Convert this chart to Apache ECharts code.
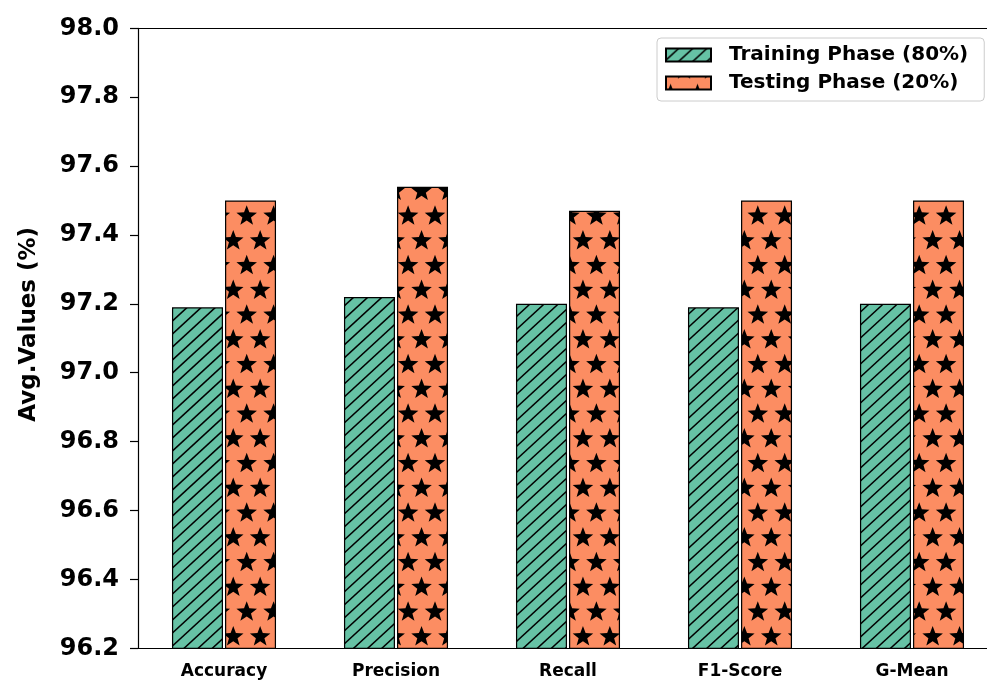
<!DOCTYPE html>
<html>
<head>
<meta charset="utf-8">
<script src="https://cdn.jsdelivr.net/npm/echarts@6/dist/echarts.min.js"></script>
<style>
  html, body { margin: 0; padding: 0; background: #fff; }
  #chart { width: 987px; height: 681px; }
</style>
</head>
<body>
<div id="chart"></div>
<script>
// Metric categories and per-phase averages (%)
const categories = ['Accuracy', 'Precision', 'Recall', 'F1-Score', 'G-Mean'];
const trainingPhase = [97.19, 97.22, 97.20, 97.19, 97.20];
const testingPhase = [97.50, 97.54, 97.47, 97.50, 97.50];
const seriesNames = ['Training Phase (80%)', 'Testing Phase (20%)'];
const yMin = 96.2;
const yMax = 98.0;
const yStep = 0.2;

const W = 987, H = 681;
const FONT = 'DejaVu Sans';

// Diagonal hatch texture anchored to the page, green base
function makeHatch() {
  const c = document.createElement('canvas');
  c.width = W; c.height = H;
  const ctx = c.getContext('2d');
  ctx.fillStyle = '#66c2a5';
  ctx.fillRect(0, 0, W, H);
  ctx.strokeStyle = '#000';
  ctx.lineWidth = 1.5;
  const slope = 0.92, step = 13, base = 674.6;
  for (let k = -60; k <= 80; k++) {
    const cst = base + k * step;          // y + slope*x = cst
    ctx.beginPath();
    ctx.moveTo(0, cst);
    ctx.lineTo(W, cst - slope * W);
    ctx.stroke();
  }
  return c;
}

// Staggered five-point star texture, orange base
function drawStar(ctx, cx, cy, R, r) {
  ctx.beginPath();
  for (let i = 0; i < 10; i++) {
    const a = -Math.PI / 2 + i * Math.PI / 5;
    const rad = i % 2 === 0 ? R : r;
    const x = cx + rad * Math.cos(a), y = cy + rad * Math.sin(a);
    if (i === 0) ctx.moveTo(x, y); else ctx.lineTo(x, y);
  }
  ctx.closePath();
  ctx.fill();
}
function makeStars() {
  const c = document.createElement('canvas');
  c.width = W; c.height = H;
  const ctx = c.getContext('2d');
  ctx.fillStyle = '#fc8d62';
  ctx.fillRect(0, 0, W, H);
  ctx.fillStyle = '#000';
  const dx = 26.9, dy = 24.75, y0 = 414, x0 = 246.7;
  for (let k = -18; k <= 12; k++) {
    const cy = y0 + k * dy;
    const xo = (k % 2 === 0) ? x0 : x0 - dx / 2;
    for (let m = -12; m <= 30; m++) {
      drawStar(ctx, xo + m * dx, cy, 10.8, 4.5);
    }
  }
  return c;
}

const hatchTex = makeHatch();
const starTex = makeStars();

const chart = echarts.init(document.getElementById('chart'), null, { renderer: 'canvas' });

const axisStroke = { color: '#000', width: 1.2 };

chart.setOption({
  animation: false,
  backgroundColor: '#fff',
  grid: {
    left: 138, top: 28.3, width: 860, height: 620,
    outerBoundsMode: 'none',
    containLabel: false,
    show: false
  },
  legend: {
    data: seriesNames,
    orient: 'vertical',
    left: 657, top: 38,
    icon: 'rect',
    itemWidth: 45, itemHeight: 13, itemGap: 8,
    padding: [7, 16, 8, 8],
    backgroundColor: '#fff',
    borderColor: '#cccccc', borderWidth: 1, borderRadius: 4,
    textStyle: {
      fontFamily: FONT, fontWeight: 'bold', fontSize: 20, lineHeight: 20,
      color: '#000', padding: [0, 0, 0, 13]
    }
  },
  xAxis: [
    {
      type: 'category',
      data: categories,
      position: 'bottom',
      axisLine: { lineStyle: axisStroke },
      axisTick: { alignWithLabel: true, length: 7, lineStyle: axisStroke },
      axisLabel: {
        margin: 15, color: '#000',
        fontFamily: FONT, fontWeight: 'bold', fontSize: 17
      },
      splitLine: { show: false }
    },
    {
      // top frame line only
      type: 'category',
      data: categories,
      position: 'top',
      axisLine: { show: true, lineStyle: axisStroke },
      axisTick: { show: false },
      axisLabel: { show: false },
      splitLine: { show: false }
    }
  ],
  yAxis: {
    type: 'value',
    min: yMin, max: yMax, interval: yStep,
    name: 'Avg.Values (%)',
    nameLocation: 'middle',
    nameGap: 97,
    nameTextStyle: {
      fontFamily: FONT, fontWeight: 'bold', fontSize: 23, color: '#000',
      padding: [0, 0, 0, 28]
    },
    axisLine: { show: true, lineStyle: axisStroke },
    axisTick: { show: true, length: 8, lineStyle: axisStroke },
    axisLabel: {
      margin: 19, color: '#000',
      fontFamily: FONT, fontWeight: 'bold', fontSize: 24,
      formatter: v => v.toFixed(1)
    },
    splitLine: { show: false }
  },
  series: [
    {
      name: seriesNames[0],
      type: 'bar',
      data: trainingPhase,
      barWidth: 51,
      barGap: '4%',
      itemStyle: { color: { image: hatchTex, repeat: 'no-repeat' }, borderColor: '#000', borderWidth: 1.2 },
      emphasis: { disabled: true }
    },
    {
      name: seriesNames[1],
      type: 'bar',
      data: testingPhase,
      barWidth: 51,
      barGap: '4%',
      itemStyle: { color: { image: starTex, repeat: 'no-repeat' }, borderColor: '#000', borderWidth: 1.2 },
      emphasis: { disabled: true }
    }
  ]
});
</script>
</body>
</html>
